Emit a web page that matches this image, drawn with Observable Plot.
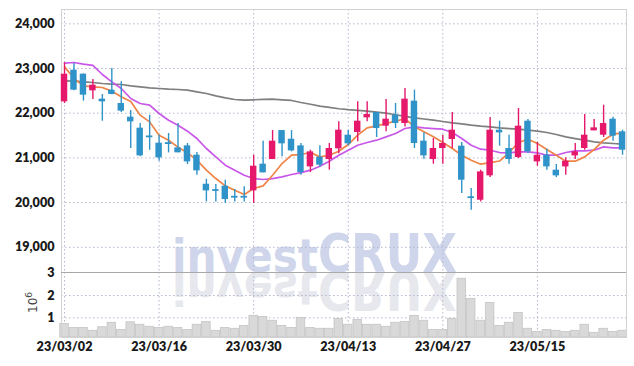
<!DOCTYPE html>
<html><head><meta charset="utf-8">
<script src="https://cdn.jsdelivr.net/npm/d3@7"></script>
<script src="https://cdn.jsdelivr.net/npm/@observablehq/plot@0.6"></script>
<style>
html,body{margin:0;padding:0;background:#fff;}
#wrap{position:relative;width:634px;height:366px;overflow:hidden;}
#wrap > svg{position:absolute;left:0;overflow:visible;max-width:none;}
</style></head><body><div id="wrap"></div>
<script>
const dates = ["2023-03-02","2023-03-03","2023-03-06","2023-03-07","2023-03-08","2023-03-09","2023-03-10","2023-03-13","2023-03-14","2023-03-15","2023-03-16","2023-03-17","2023-03-20","2023-03-21","2023-03-22","2023-03-23","2023-03-24","2023-03-27","2023-03-28","2023-03-29","2023-03-30","2023-03-31","2023-04-03","2023-04-04","2023-04-05","2023-04-06","2023-04-07","2023-04-10","2023-04-11","2023-04-12","2023-04-13","2023-04-14","2023-04-17","2023-04-18","2023-04-19","2023-04-20","2023-04-21","2023-04-24","2023-04-25","2023-04-26","2023-04-27","2023-04-28","2023-05-02","2023-05-03","2023-05-04","2023-05-08","2023-05-09","2023-05-10","2023-05-11","2023-05-12","2023-05-15","2023-05-16","2023-05-17","2023-05-18","2023-05-19","2023-05-22","2023-05-23","2023-05-24","2023-05-25","2023-05-26"];
const open  = [22254,22963,22873,22500,22314,22515,22217,21911,21665,21490,21329,21340,21224,21269,21060,20411,20290,20367,20140,20140,20262,20859,20963,21612,21418,21269,20799,21016,20963,21202,21508,21568,21896,22015,21709,21956,21769,22269,21374,20963,21210,21411,21262,20130,20053,20598,21620,21210,21008,21821,20911,21060,20725,20799,21045,21210,21605,21508,21866,21583];
const high  = [23127,23112,22880,22754,22418,23000,22702,22060,21769,21955,21508,21545,21769,21322,21120,20523,20404,20501,20292,20352,21060,21374,21612,21612,21612,21322,21172,21269,21322,21806,21612,22254,22254,22015,22306,22217,22552,22515,21560,21433,21508,22015,21344,20314,20725,21903,21821,21508,22105,21859,21344,21195,20852,21001,21322,21970,21859,22179,21911,21620];
const low   = [22217,22500,22270,22306,21821,22410,22015,21210,21023,21170,20926,21112,21113,20851,20613,20016,20016,19979,20016,20016,19979,20665,20963,21023,21135,20613,20672,20799,20725,21090,21269,21359,21806,21456,21583,21657,21694,21210,20971,20859,20859,21210,20203,19830,20016,20561,21262,20859,20986,21098,20814,20725,20561,20613,20963,21172,21605,21456,21374,21060];
const close = [22873,22515,22403,22627,22254,22418,22045,21806,21045,21450,21001,21300,21113,20911,20710,20262,20250,20068,20100,20100,20814,20665,21374,21314,21157,20672,21135,20837,21210,21620,21314,21821,21970,21657,21866,21769,22314,21322,21045,21210,21322,21620,20501,20090,20687,21620,21560,20963,21709,21135,21060,20799,20598,20926,21135,21508,21672,21769,21486,21172];
const ma5   = [23037,22780,22612,22590,22575,22493,22366,22262,21956,21806,21508,21396,21240,21113,20949,20725,20538,20374,20277,20180,20314,20374,20613,20874,21060,21075,21120,21023,21060,21150,21299,21508,21672,21717,21769,21821,21880,21695,21583,21471,21344,21210,21060,20949,20859,20896,20930,21120,21344,21418,21322,21187,21060,20926,20926,21023,21187,21396,21530,21560];
const ma20  = [23120,23134,23097,23070,22866,22700,22552,22329,22217,22179,21993,21843,21732,21598,21433,21210,21023,20837,20725,20613,20538,20516,20538,20576,20628,20672,20725,20814,20926,21060,21172,21284,21344,21396,21471,21545,21657,21695,21672,21657,21642,21568,21433,21284,21195,21172,21120,21113,21135,21135,21113,21060,21060,21120,21157,21157,21172,21247,21224,21224];
const ma60  = [22724,22716,22702,22687,22664,22649,22642,22612,22590,22567,22552,22537,22530,22515,22478,22440,22388,22343,22306,22291,22300,22310,22315,22300,22285,22240,22200,22160,22130,22100,22080,22065,22045,22025,22000,21965,21930,21895,21870,21844,21814,21784,21762,21732,21709,21695,21672,21657,21642,21620,21598,21568,21523,21471,21433,21396,21359,21337,21322,21307];
const volume = [0.73,0.55,0.55,0.42,0.58,0.78,0.46,0.80,0.69,0.60,0.55,0.60,0.55,0.46,0.69,0.82,0.42,0.55,0.51,0.64,1.09,1.04,0.87,0.64,0.55,1.00,0.55,0.51,0.51,0.95,0.69,0.91,0.69,0.69,0.60,0.78,0.82,1.09,0.87,0.46,0.46,0.95,2.75,1.85,0.87,1.67,0.64,0.78,1.22,0.51,0.37,0.46,0.42,0.37,0.42,0.69,0.33,0.51,0.37,0.42];
const priceTicks = [19000,20000,21000,22000,23000,24000];
const volumeTicks = [1,2,3];
const dateTicks = ["2023-03-02","2023-03-16","2023-03-30","2023-04-13","2023-04-27","2023-05-15"];

// one row per trading day; x is the trading-day index (the axis skips weekends/holidays)
const data = dates.map((d,i)=>({i, date:d, open:open[i], high:high[i], low:low[i], close:close[i], ma5:ma5[i], ma20:ma20[i], ma60:ma60[i], volume:volume[i]}));
const upD = data.filter(d=>d.close>=d.open);
const dnD = data.filter(d=>d.close<d.open);
const tickIdx = dateTicks.map(t=>dates.indexOf(t));
const PINK="#e5186b", BLUE="#2f93c9", GRID="#b3b7cf";
const xScale = {type:"linear", domain:[-0.32, dates.length-1+0.42], ticks:tickIdx, tickFormat:i=>dates[i].slice(2).replace(/-/g,"/"), tickSize:0, tickPadding:5, label:null};
const half = 0.34, vhalf = 0.45;
const axisStyle = {background:"transparent", overflow:"visible"};

const wrap = document.getElementById("wrap");

// watermark (behind)
const wm = d3.create("svg").attr("width",634).attr("height",366).style("top","0px");
const addWM = (g, fill) => {
  g.append("text").attr("x",172).attr("y",272).attr("font-family","'DejaVu Sans',sans-serif").attr("font-weight","bold").attr("font-size",46).attr("fill",fill).attr("textLength",146).attr("lengthAdjust","spacingAndGlyphs").text("invest");
  g.append("text").attr("x",318).attr("y",272).attr("font-family","'DejaVu Sans',sans-serif").attr("font-weight","bold").attr("font-size",53).attr("fill",fill).attr("textLength",139).attr("lengthAdjust","spacingAndGlyphs").text("CRUX");
};
addWM(wm.append("g").attr("transform","translate(0,544) scale(1,-1)"), "#e7e7ee");
addWM(wm.append("g"), "#cfd5ea");
wm.append("text").attr("transform","translate(37,313) rotate(-90)").attr("font-family","'DejaVu Sans',sans-serif").attr("font-size",12).attr("fill","#444")
  .text("10").append("tspan").attr("dy",-5).attr("font-size",9).text("6");
wrap.appendChild(wm.node());

const price = Plot.plot({
  width:634, height:272, marginLeft:61, marginRight:8, marginTop:9, marginBottom:0,
  style:axisStyle,
  x:{...xScale, axis:null},
  y:{domain:[18436,24320], ticks:priceTicks, tickFormat:d3.format(","), tickSize:0, tickPadding:7, label:null},
  marks:[
    Plot.ruleY(priceTicks,{stroke:GRID, strokeDasharray:"1.5,2.5"}),
    Plot.ruleX(tickIdx,{stroke:GRID, strokeDasharray:"1.5,2.5"}),
    Plot.frame({stroke:"#d2d2d2"}),
    Plot.line(data,{x:"i", y:"ma60", stroke:"#7f7f7f", strokeWidth:1.7}),
    Plot.line(data,{x:"i", y:"ma20", stroke:"#c957e9", strokeWidth:1.7}),
    Plot.line(data,{x:"i", y:"ma5", stroke:"#ef8447", strokeWidth:1.7}),
    Plot.ruleX(upD,{x:"i", y1:"low", y2:"high", stroke:PINK, strokeWidth:1.4}),
    Plot.ruleX(dnD,{x:"i", y1:"low", y2:"high", stroke:BLUE, strokeWidth:1.4}),
    Plot.rect(upD,{x1:d=>d.i-half, x2:d=>d.i+half, y1:"open", y2:"close", fill:PINK}),
    Plot.rect(dnD,{x1:d=>d.i-half, x2:d=>d.i+half, y1:"open", y2:"close", fill:BLUE})
  ]
});
price.style.top="0px";
wrap.appendChild(price);

const vol = Plot.plot({
  width:634, height:94, marginLeft:61, marginRight:8, marginTop:0, marginBottom:29,
  style:axisStyle,
  x:xScale,
  y:{domain:[0.12,3.03], clamp:true, ticks:volumeTicks, tickFormat:d3.format("d"), tickSize:0, tickPadding:7, label:null},
  marks:[
    Plot.ruleY([1,2],{stroke:GRID, strokeDasharray:"1.5,2.5"}),
    Plot.ruleX(tickIdx,{stroke:GRID, strokeDasharray:"1.5,2.5"}),
    Plot.rectY(data,{x1:d=>d.i-vhalf, x2:d=>d.i+vhalf, y:"volume", fill:"#d9d9d9", stroke:"#c4c4c4", strokeWidth:0.8}),
    Plot.frame({stroke:"#d2d2d2"}),
    Plot.ruleY([3.03],{stroke:"#a9a9a9"})
  ]
});
vol.style.top="272px";
wrap.appendChild(vol);

for (const svg of [price, vol]) {
  svg.querySelectorAll("text").forEach(t => {
    t.style.fontFamily = "Lato, Roboto, sans-serif";
    t.style.fontSize = "12.6px";
    t.style.fontWeight = "800";
    t.style.fill = "#1a1a1a";
  });
}
</script></body></html>
